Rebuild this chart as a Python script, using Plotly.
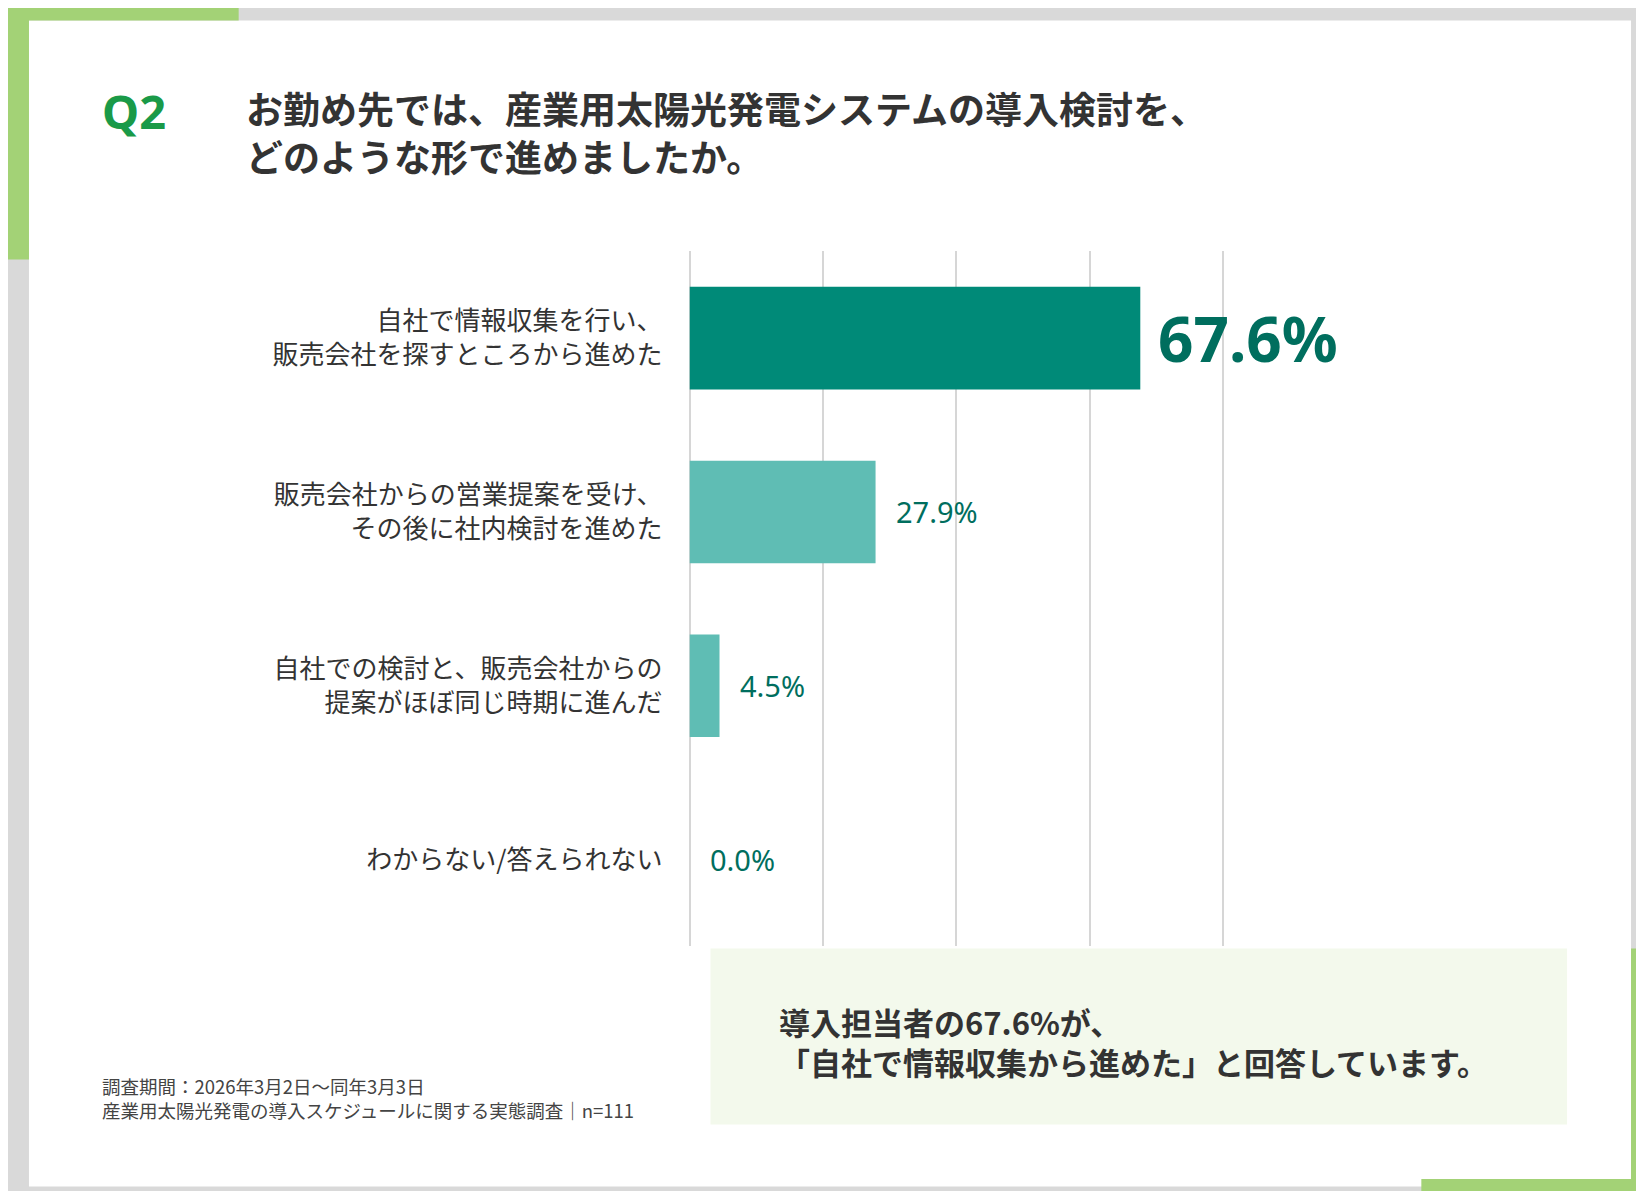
import plotly.graph_objects as go

categories = ["自社で情報収集を行い、<br>販売会社を探すところから進めた",
              "販売会社からの営業提案を受け、<br>その後に社内検討を進めた",
              "自社での検討と、販売会社からの<br>提案がほぼ同じ時期に進んだ",
              "わからない/答えられない"]
values = [67.6, 27.9, 4.5, 0.0]
bar_colors = ["#008a78", "#5fbdb4", "#5fbdb4", "#5fbdb4"]
label_sizes = [62, 29, 29, 29]

W0, H0 = 1568, 1136
def px(x): return x / W0
def py(y): return 1 - y / H0

fig = go.Figure(go.Bar(y=categories, x=values, orientation="h",
                       marker=dict(color=bar_colors, line=dict(width=0)),
                       width=0.59, hoverinfo="skip"))

ann = []
for i, (c, v) in enumerate(zip(categories, values)):
    ann.append(dict(x=v, y=c, xref="x", yref="y", text=f"{v:.1f}%",
                    showarrow=False, xanchor="left", xshift=18 if i else 16,
                    font=dict(size=label_sizes[i], color="#006e5e",
                              family="Noto Sans, Noto Sans CJK JP")))
ann[0]["text"] = "<b>67.6%</b>"

font_jp = "Noto Sans CJK JP"
ann += [
    dict(x=px(88), y=py(98), xref="paper", yref="paper", text="<b>Q2</b>", showarrow=False,
         xanchor="left", yanchor="middle", font=dict(size=47, color="#1a9a48", family="Noto Sans, " + font_jp)),
    dict(x=px(225), y=py(118), xref="paper", yref="paper",
         text="<b>お勤め先では、産業用太陽光発電システムの導入検討を、<br>どのような形で進めましたか。</b>",
         showarrow=False, xanchor="left", yanchor="middle", align="left",
         font=dict(size=37, color="#333333", family=font_jp)),
    dict(x=px(88), y=py(1040), xref="paper", yref="paper",
         text="調査期間：2026年3月2日～同年3月3日<br>産業用太陽光発電の導入スケジュールに関する実態調査｜n=111",
         showarrow=False, xanchor="left", yanchor="middle", align="left",
         font=dict(size=18.5, color="#444444", family=font_jp)),
    dict(x=px(733), y=py(986), xref="paper", yref="paper",
         text="<b>導入担当者の67.6%が、<br>「自社で情報収集から進めた」と回答しています。</b>",
         showarrow=False, xanchor="left", yanchor="middle", align="left",
         font=dict(size=31, color="#333333", family=font_jp)),
]

def rect(x0, y0, x1, y1, color, layer="below"):
    return dict(type="rect", xref="paper", yref="paper", x0=px(x0), x1=px(x1),
                y0=py(y1), y1=py(y0), fillcolor=color, line=dict(width=0), layer=layer)

shapes = [
    rect(0, 0, W0, H0, "#d9d9d9"),
    rect(20, 12, 1548, 1124, "#ffffff"),
    rect(0, 0, 20, 240, "#a3d276"),
    rect(0, 0, 220, 12, "#a3d276"),
    rect(1548, 897, W0, H0, "#a3d276"),
    rect(1348, 1117, W0, H0, "#a3d276"),
    rect(670, 897, 1487, 1065, "#f3f9ec"),
]

fig.update_layout(
    width=1644, height=1191, margin=dict(l=0, r=0, t=0, b=0),
    paper_bgcolor="#d9d9d9", plot_bgcolor="rgba(0,0,0,0)",
    showlegend=False, annotations=ann, shapes=shapes,
    xaxis=dict(domain=[px(650), px(1162)], range=[0, 80.5], dtick=20,
               showgrid=True, gridcolor="#d6d6d6", gridwidth=1.5,
               showticklabels=False, zeroline=True, zerolinecolor="#d6d6d6", zerolinewidth=1.5),
    yaxis=dict(domain=[py(895), py(232)], autorange="reversed",
               tickfont=dict(size=26, color="#333333", family=font_jp),
               ticks="", ticklabelstandoff=26, showgrid=False),
)
fig.write_html("out.html")
